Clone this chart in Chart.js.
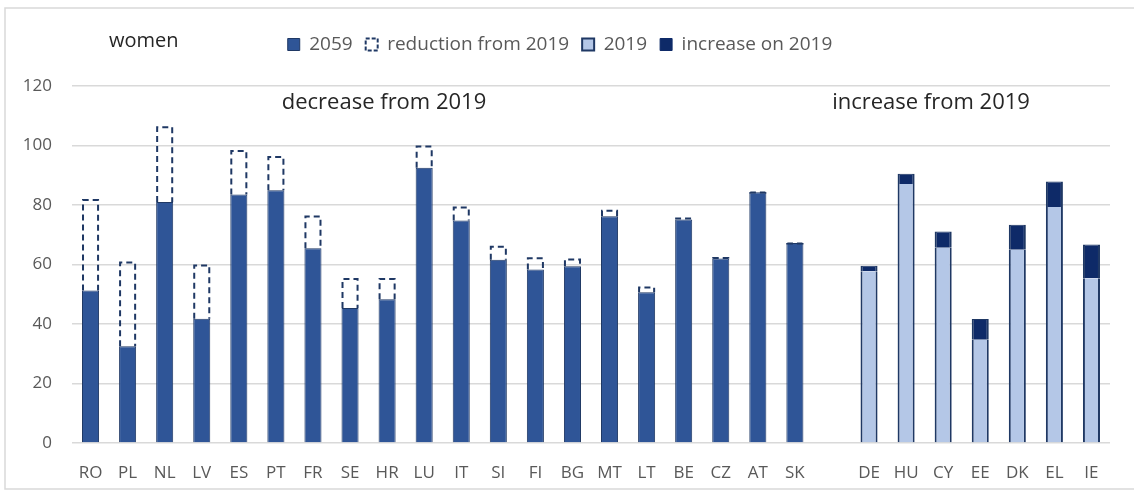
<!DOCTYPE html>
<html>
<head>
<meta charset="utf-8">
<script src="https://cdn.jsdelivr.net/npm/chart.js@4.4.1/dist/chart.umd.min.js"></script>
<style>
  html, body { margin: 0; padding: 0; background: #fff; }
  #wrap { position: relative; width: 1134px; height: 492px; }
</style>
</head>
<body>
<div id="wrap"><canvas id="womenChart" width="1134" height="492"></canvas></div>
<script>
// countries where the 2059 value is below 2019
const decCountries = ['RO', 'PL', 'NL', 'LV', 'ES', 'PT', 'FR', 'SE', 'HR', 'LU',
                      'IT', 'SI', 'FI', 'BG', 'MT', 'LT', 'BE', 'CZ', 'AT', 'SK'];
const dec2019 = [82, 61, 106.5, 60, 98.5, 96.5, 76.5, 55.5, 55.5, 100,
                 79.5, 66.3, 62.4, 62, 78.4, 52.6, 75.8, 62.5, 84.5, 67.4];
const dec2059 = [51.3, 32.5, 81, 41.8, 83.5, 85, 65.5, 45.4, 48.3, 92.5,
                 74.8, 61.6, 58.3, 59.4, 76.2, 50.7, 75.1, 62, 84.3, 67.2];

// countries where the 2059 value is above 2019
const incCountries = ['DE', 'HU', 'CY', 'EE', 'DK', 'EL', 'IE'];
const inc2019 = [57.7, 87.1, 65.6, 34.7, 65, 79.3, 55.4];
const inc2059 = [59.6, 90.5, 71.1, 41.7, 73.4, 87.9, 66.7];

const yTicks = [0, 20, 40, 60, 80, 100, 120];

const NAVY = '#1F3864';
const DARK = '#0E2A68';
const MID = '#2F5597';
const LIGHT = '#B4C7E7';
const GREY = '#595959';

// one empty slot separates the two groups
const labels = [...decCountries, '', ...incCountries];
const gap = Array(incCountries.length + 1).fill(null);
const lead = Array(decCountries.length + 1).fill(null);

const s2059 = [...dec2059, ...gap];
const sReduction = [...dec2019.map((v, i) => +(v - dec2059[i]).toFixed(1)), ...gap];
const s2019 = [...lead, ...inc2019];
const sIncrease = [...lead, ...inc2059.map((v, i) => +(v - inc2019[i]).toFixed(1))];

// bars don't support dashed borders, so outline the reduction bars by hand
const dashedOutline = {
  id: 'dashedOutline',
  afterDatasetsDraw(chart) {
    const meta = chart.getDatasetMeta(1);
    const ctx = chart.ctx;
    ctx.save();
    ctx.strokeStyle = NAVY;
    ctx.lineWidth = 2;
    ctx.setLineDash([6, 4]);
    meta.data.forEach((bar, i) => {
      if (sReduction[i] == null) return;
      const { x, y, base, width } = bar.getProps(['x', 'y', 'base', 'width'], true);
      const l = x - width / 2 + 1, r = x + width / 2 - 1;
      ctx.beginPath();
      ctx.moveTo(l, base);
      ctx.lineTo(l, y + 1);
      ctx.lineTo(r, y + 1);
      ctx.lineTo(r, base);
      ctx.stroke();
    });
    ctx.restore();
  }
};

// frame, heading and group captions
const annotations = {
  id: 'annotations',
  beforeDraw(chart) {
    const ctx = chart.ctx;
    ctx.save();
    ctx.fillStyle = '#fff';
    ctx.fillRect(0, 0, chart.width, chart.height);
    ctx.strokeStyle = '#D9D9D9';
    ctx.lineWidth = 1.5;
    ctx.beginPath();
    ctx.moveTo(chart.width, 8);
    ctx.lineTo(5, 8);
    ctx.lineTo(5, 489);
    ctx.lineTo(chart.width, 489);
    ctx.stroke();
    ctx.restore();
  },
  afterDraw(chart) {
    const ctx = chart.ctx;
    const { top } = chart.chartArea;
    ctx.save();
    ctx.fillStyle = '#262626';
    ctx.textBaseline = 'middle';
    ctx.font = '20px "Open Sans"';
    ctx.textAlign = 'left';
    ctx.fillText('women', 109, 41);
    ctx.font = '22px "Open Sans"';
    ctx.textAlign = 'center';
    ctx.fillText('decrease from 2019', 384, top + 17);
    ctx.fillText('increase from 2019', 931, top + 17);
    ctx.restore();
  }
};

// push the plot area down below the legend row
const legendRoom = {
  id: 'legendRoom',
  beforeInit(chart) {
    const fit = chart.legend.fit;
    chart.legend.fit = function () {
      fit.bind(chart.legend)();
      this.height = 64;
    };
  }
};

new Chart(document.getElementById('womenChart'), {
  type: 'bar',
  data: {
    labels: labels,
    datasets: [
      { label: '2059', data: s2059, backgroundColor: MID, borderColor: NAVY, borderWidth: 1 },
      { label: 'reduction from 2019', data: sReduction, backgroundColor: 'rgba(0,0,0,0)', borderWidth: 0 },
      { label: '2019', data: s2019, backgroundColor: LIGHT, borderColor: NAVY,
        borderWidth: { left: 2, right: 2, top: 0, bottom: 0 } },
      { label: 'increase on 2019', data: sIncrease, backgroundColor: DARK, borderColor: NAVY,
        borderWidth: { left: 2, right: 2, top: 1, bottom: 0 } }
    ]
  },
  options: {
    responsive: false,
    animation: false,
    devicePixelRatio: 1,
    categoryPercentage: 1,
    barPercentage: 0.46,
    layout: { padding: { left: 10, right: 24, top: 22, bottom: 9 } },
    plugins: {
      tooltip: { enabled: false },
      legend: {
        position: 'top',
        labels: {
          color: GREY,
          font: { family: '"Open Sans"', size: 19 },
          boxWidth: 12,
          boxHeight: 12,
          padding: 13,
          generateLabels: () => [
            { text: '2059', fillStyle: MID, strokeStyle: NAVY, lineWidth: 1, fontColor: GREY },
            { text: 'reduction from 2019', fillStyle: '#fff', strokeStyle: NAVY, lineWidth: 2, lineDash: [4, 2], fontColor: GREY },
            { text: '2019', fillStyle: LIGHT, strokeStyle: NAVY, lineWidth: 2, fontColor: GREY },
            { text: 'increase on 2019', fillStyle: DARK, strokeStyle: DARK, lineWidth: 1, fontColor: GREY }
          ]
        }
      }
    },
    scales: {
      x: {
        stacked: true,
        grid: { display: false },
        border: { display: false },
        ticks: { color: GREY, font: { family: '"Open Sans"', size: 17 }, padding: 12, maxRotation: 0, autoSkip: false },
        afterFit(scale) { scale.height = 40; }
      },
      y: {
        stacked: true,
        min: yTicks[0],
        max: yTicks[yTicks.length - 1],
        afterBuildTicks(scale) { scale.ticks = yTicks.map(v => ({ value: v })); },
        grid: { color: '#D9D9D9', lineWidth: 1.5, drawTicks: false },
        border: { display: false },
        ticks: { color: GREY, font: { family: '"Open Sans"', size: 17 }, padding: 20 },
        afterFit(scale) { scale.width = 62; }
      }
    }
  },
  plugins: [annotations, legendRoom, dashedOutline]
});
</script>
</body>
</html>
